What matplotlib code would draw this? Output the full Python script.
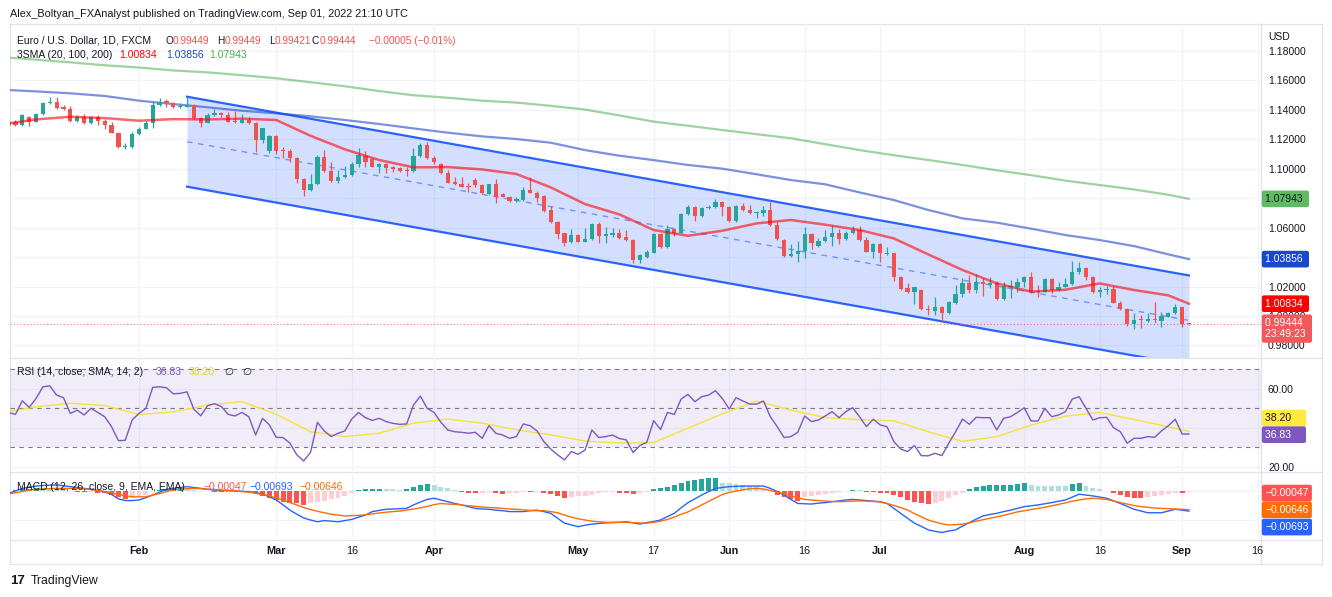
import numpy as np
import pandas as pd
import matplotlib
matplotlib.use("Agg")
import matplotlib.pyplot as plt
from matplotlib.transforms import blended_transform_factory as blend
from matplotlib.lines import Line2D

plt.rcParams['font.family'] = ['Liberation Sans', 'DejaVu Sans']

# ------------------------------------------------------------------ data
dates = pd.bdate_range('2022-01-05', '2022-09-02')

opens = [1.1295, 1.1313, 1.1295, 1.1351, 1.1318, 1.1367, 1.1442, 1.1453, 1.1414, 1.1403,
         1.1324, 1.1347, 1.1306, 1.1347, 1.1324, 1.1297, 1.1243, 1.1143, 1.1148,
         1.1234, 1.1268, 1.1306, 1.1431, 1.1460, 1.1442, 1.1414, 1.1419, 1.1431, 1.1340,
         1.1311, 1.1363, 1.1378, 1.1363, 1.1320, 1.1311, 1.1329, 1.1306, 1.1193, 1.1119,
         1.1220, 1.1125, 1.1121, 1.1069, 1.0927, 1.0854, 1.0895, 1.1076, 1.0986, 1.0918,
         1.0940, 1.0954, 1.1031, 1.1087, 1.1062, 1.1013, 1.1031, 1.1008, 1.1001, 1.0990,
         1.0986, 1.1085, 1.1159,
         1.1073, 1.1028, 1.0967, 1.0908, 1.0897, 1.0881, 1.0922, 1.0886, 1.0827, 1.0893,
         1.0827, 1.0807, 1.0780, 1.0786, 1.0854, 1.0836, 1.0813, 1.0719, 1.0639, 1.0560, 1.0499,
         1.0549, 1.0504, 1.0520, 1.0624, 1.0542, 1.0549, 1.0565, 1.0534, 1.0515, 1.0380,
         1.0402, 1.0429, 1.0554, 1.0466, 1.0587, 1.0565, 1.0692, 1.0741, 1.0678, 1.0730,
         1.0737, 1.0775,
         1.0741, 1.0646, 1.0746, 1.0719, 1.0698, 1.0701, 1.0719, 1.0617, 1.0515, 1.0409,
         1.0418, 1.0441, 1.0554, 1.0475, 1.0511, 1.0538, 1.0565, 1.0520, 1.0560, 1.0583,
         1.0515, 1.0436,
         1.0488, 1.0420, 1.0425, 1.0267, 1.0187, 1.0160, 1.0176, 1.0050, 1.0036, 1.0059,
         1.0018, 1.0086, 1.0147, 1.0226, 1.0176, 1.0233, 1.0210, 1.0221, 1.0113, 1.0194, 1.0199,
         1.0233, 1.0267, 1.0172, 1.0165, 1.0249, 1.0176, 1.0199, 1.0217, 1.0301, 1.0327,
         1.0262, 1.0163, 1.0176, 1.0183, 1.0090, 1.0045, 0.9946, 0.9977, 0.9968, 0.9980,
         0.9968, 0.9996, 1.0018,
         1.0059, 0.99449]
highs = [1.1329, 1.1329, 1.1370, 1.1356, 1.1374, 1.1453, 1.1482, 1.1482, 1.1431, 1.1423,
         1.1363, 1.1367, 1.1356, 1.1363, 1.1333, 1.1318, 1.1250, 1.1170, 1.1250,
         1.1283, 1.1324, 1.1453, 1.1476, 1.1469, 1.1453, 1.1446, 1.1487, 1.1435, 1.1351,
         1.1374, 1.1401, 1.1385, 1.1385, 1.1392, 1.1367, 1.1351, 1.1318, 1.1277, 1.1225,
         1.1227, 1.1143, 1.1130, 1.1076, 1.0933, 1.0963, 1.1092, 1.1125, 1.1046, 1.0990,
         1.1017, 1.1044, 1.1139, 1.1119, 1.1069, 1.1040, 1.1040, 1.1020, 1.1013, 1.1013,
         1.1137, 1.1170, 1.1182,
         1.1085, 1.1040, 1.0990, 1.0940, 1.0940, 1.0899, 1.0933, 1.0893, 1.0895, 1.0927,
         1.0832, 1.0813, 1.0809, 1.0872, 1.0940, 1.0850, 1.0818, 1.0746, 1.0646, 1.0565, 1.0587,
         1.0554, 1.0594, 1.0633, 1.0639, 1.0601, 1.0594, 1.0587, 1.0583, 1.0520, 1.0420,
         1.0447, 1.0560, 1.0565, 1.0617, 1.0594, 1.0696, 1.0753, 1.0746, 1.0737, 1.0753,
         1.0793, 1.0780,
         1.0746, 1.0753, 1.0764, 1.0753, 1.0714, 1.0746, 1.0775, 1.0639, 1.0520, 1.0488,
         1.0511, 1.0606, 1.0560, 1.0527, 1.0583, 1.0617, 1.0587, 1.0574, 1.0612, 1.0610,
         1.0538, 1.0493,
         1.0493, 1.0470, 1.0429, 1.0271, 1.0226, 1.0199, 1.0181, 1.0074, 1.0127, 1.0068,
         1.0102, 1.0210, 1.0255, 1.0278, 1.0285, 1.0255, 1.0262, 1.0240, 1.0233, 1.0244, 1.0255,
         1.0273, 1.0301, 1.0210, 1.0255, 1.0255, 1.0230, 1.0255, 1.0373, 1.0364, 1.0334,
         1.0273, 1.0199, 1.0203, 1.0203, 1.0102, 1.0052, 1.0018, 1.0007, 1.0018, 1.0093,
         1.0029, 1.0025, 1.0079,
         1.0063, 0.99449]
lows = [1.1288, 1.1288, 1.1290, 1.1288, 1.1313, 1.1363, 1.1440, 1.1403, 1.1397, 1.1318,
        1.1318, 1.1304, 1.1304, 1.1295, 1.1268, 1.1238, 1.1137, 1.1130, 1.1140,
        1.1229, 1.1265, 1.1272, 1.1426, 1.1419, 1.1408, 1.1408, 1.1414, 1.1335, 1.1283,
        1.1306, 1.1358, 1.1351, 1.1313, 1.1311, 1.1306, 1.1302, 1.1114, 1.1175, 1.1108,
        1.1097, 1.1069, 1.1046, 1.0899, 1.0813, 1.0850, 1.0888, 1.0978, 1.0908, 1.0904,
        1.0933, 1.0949, 1.1013, 1.1008, 1.1008, 1.0967, 1.0967, 1.0978, 1.0978, 1.0949,
        1.0978, 1.1080, 1.1065,
        1.1031, 1.0963, 1.0899, 1.0888, 1.0872, 1.0843, 1.0872, 1.0827, 1.0820, 1.0764,
        1.0804, 1.0775, 1.0773, 1.0782, 1.0832, 1.0775, 1.0705, 1.0633, 1.0522, 1.0477, 1.0497,
        1.0499, 1.0499, 1.0515, 1.0497, 1.0497, 1.0538, 1.0524, 1.0511, 1.0357, 1.0357,
        1.0395, 1.0425, 1.0461, 1.0461, 1.0545, 1.0560, 1.0685, 1.0646, 1.0674, 1.0723,
        1.0730, 1.0680,
        1.0639, 1.0639, 1.0714, 1.0692, 1.0662, 1.0678, 1.0610, 1.0515, 1.0402, 1.0402,
        1.0364, 1.0391, 1.0452, 1.0470, 1.0504, 1.0477, 1.0488, 1.0515, 1.0556, 1.0511,
        1.0432, 1.0391,
        1.0368, 1.0413, 1.0240, 1.0176, 1.0154, 1.0081, 1.0041, 1.0007, 1.0007, 0.9961,
        1.0014, 1.0081, 1.0127, 1.0158, 1.0158, 1.0136, 1.0187, 1.0109, 1.0109, 1.0120, 1.0165,
        1.0199, 1.0158, 1.0131, 1.0160, 1.0158, 1.0172, 1.0194, 1.0210, 1.0285, 1.0244,
        1.0158, 1.0127, 1.0149, 1.0086, 1.0041, 0.9934, 0.9909, 0.9916, 0.9961, 0.9954,
        0.9923, 0.9991, 1.0014,
        0.9923, 0.99421]
closes = [1.1318, 1.1295, 1.1363, 1.1318, 1.1367, 1.1446, 1.1453, 1.1412, 1.1401, 1.1324,
          1.1347, 1.1306, 1.1347, 1.1324, 1.1297, 1.1243, 1.1143, 1.1152, 1.1234,
          1.1268, 1.1306, 1.1431, 1.1449, 1.1442, 1.1414, 1.1424, 1.1431, 1.1340, 1.1311,
          1.1363, 1.1378, 1.1360, 1.1318, 1.1313, 1.1329, 1.1306, 1.1193, 1.1272, 1.1220,
          1.1119, 1.1119, 1.1069, 1.0927, 1.0854, 1.0895, 1.1076, 1.0986, 1.0915, 1.0940,
          1.0956, 1.1031, 1.1092, 1.1046, 1.1013, 1.1031, 1.1001, 1.0999, 1.0986, 1.0983,
          1.1085, 1.1159, 1.1069,
          1.1046, 1.0967, 1.0904, 1.0895, 1.0877, 1.0877, 1.0888, 1.0832, 1.0893, 1.0809,
          1.0809, 1.0782, 1.0791, 1.0854, 1.0836, 1.0800, 1.0714, 1.0639, 1.0556, 1.0497, 1.0549,
          1.0504, 1.0522, 1.0624, 1.0542, 1.0554, 1.0565, 1.0531, 1.0515, 1.0380, 1.0413,
          1.0436, 1.0554, 1.0466, 1.0587, 1.0560, 1.0692, 1.0741, 1.0678, 1.0730, 1.0741,
          1.0775, 1.0737,
          1.0646, 1.0746, 1.0719, 1.0701, 1.0703, 1.0719, 1.0617, 1.0520, 1.0409, 1.0418,
          1.0441, 1.0554, 1.0497, 1.0511, 1.0538, 1.0565, 1.0520, 1.0560, 1.0583, 1.0515,
          1.0436, 1.0488,
          1.0429, 1.0429, 1.0267, 1.0183, 1.0160, 1.0194, 1.0045, 1.0041, 1.0059, 1.0018,
          1.0093, 1.0147, 1.0226, 1.0176, 1.0233, 1.0217, 1.0221, 1.0113, 1.0203, 1.0203, 1.0233,
          1.0267, 1.0165, 1.0165, 1.0249, 1.0176, 1.0199, 1.0217, 1.0301, 1.0327, 1.0262,
          1.0165, 1.0176, 1.0183, 1.0090, 1.0045, 0.9943, 0.9973, 0.9973, 0.9982, 0.9973,
          1.0000, 1.0018, 1.0059,
          0.99449, 0.99444]

# smooth indicator lines, read at weekly sample dates
sample_dates = ['2022-01-05', '2022-01-11', '2022-01-18', '2022-01-25', '2022-02-01', '2022-02-08',
                '2022-02-15', '2022-02-22', '2022-03-01', '2022-03-08', '2022-03-15', '2022-03-22',
                '2022-03-29', '2022-04-05', '2022-04-12', '2022-04-19', '2022-04-26', '2022-05-03',
                '2022-05-10', '2022-05-17', '2022-05-24', '2022-05-31', '2022-06-07', '2022-06-14',
                '2022-06-21', '2022-06-28', '2022-07-05', '2022-07-12', '2022-07-19', '2022-07-26',
                '2022-08-02', '2022-08-09', '2022-08-16', '2022-08-23', '2022-08-30', '2022-09-02']
sma20 = [1.1306, 1.1333, 1.1351, 1.1342, 1.1324, 1.1335, 1.1333, 1.1338, 1.1329, 1.1222,
         1.1130, 1.1058, 1.1008, 1.1010, 1.0994, 1.0963, 1.0872, 1.0759, 1.0689, 1.0583,
         1.0544, 1.0578, 1.0628, 1.0651, 1.0619, 1.0583, 1.0526, 1.0418, 1.0312, 1.0221,
         1.0165, 1.0178, 1.0221, 1.0176, 1.0140, 1.00834]
sma100 = [1.1532, 1.1523, 1.1510, 1.1492, 1.1460, 1.1437, 1.1415, 1.1392, 1.1374, 1.1354,
          1.1329, 1.1302, 1.1272, 1.1243, 1.1218, 1.1200, 1.1175, 1.1125, 1.1087, 1.1057,
          1.1024, 1.0999, 1.0961, 1.0922, 1.0893, 1.0838, 1.0786, 1.0719, 1.0662, 1.0633,
          1.0592, 1.0549, 1.0515, 1.0474, 1.0418, 1.03856]
sma200 = [1.1752, 1.1738, 1.1720, 1.1700, 1.1685, 1.1665, 1.1652, 1.1633, 1.1612, 1.1585,
          1.1558, 1.1525, 1.1497, 1.1480, 1.1460, 1.1447, 1.1425, 1.1400, 1.1360, 1.1318,
          1.1290, 1.1261, 1.1233, 1.1205, 1.1165, 1.1125, 1.1090, 1.1058, 1.1024, 1.0988,
          1.0955, 1.0918, 1.0888, 1.0858, 1.0822, 1.07943]
rsi_ma = [48.3, 50.8, 52.6, 51.5, 46.8, 48.2, 51.7, 53.5, 47.0, 38.0,
          35.5, 37.2, 42.4, 44.5, 42.4, 39.0, 36.4, 33.2, 32.2, 32.4,
          39.8, 47.2, 53.8, 49.1, 45.3, 44.2, 43.6, 38.0, 33.0, 35.5,
          41.4, 46.0, 47.9, 44.3, 40.5, 38.20]

rsi = [47.9, 46.9, 53.9, 50.5, 55.1, 61.1, 61.6, 56.8, 55.5, 47.4,
       49.1, 46.6, 50.0, 47.9, 45.7, 40.6, 33.4, 33.6, 44.0, 47.4,
       50.0, 60.8, 61.1, 60.6, 57.5, 57.7, 58.5, 49.5, 46.2, 51.4,
       52.4, 50.9, 46.9, 46.1, 47.9, 45.7, 36.3, 44.9, 41.5, 35.1,
       35.0, 32.1, 26.1, 23.0, 27.4, 42.8, 38.4, 35.5, 37.2, 38.4,
       44.5, 47.9, 45.2, 43.8, 44.9, 43.2, 42.3, 41.8, 42.0, 51.7,
       56.3, 50.0, 47.9, 42.8, 38.9, 38.0, 37.7, 37.2, 37.7, 34.6,
       41.1, 37.2, 36.3, 34.6, 35.5, 42.0, 41.1, 38.4, 32.9, 29.1,
       26.1, 23.5, 27.8, 26.4, 28.6, 38.9, 35.0, 35.5, 36.3, 34.5,
       33.8, 27.3, 30.9, 32.6, 43.7, 39.1, 47.9, 46.9, 54.8, 57.2,
       53.4, 56.0, 56.8, 59.1, 55.1, 49.7, 55.5, 53.8, 52.2, 52.2,
       53.8, 45.7, 40.6, 35.0, 35.5, 37.7, 46.1, 43.2, 44.0, 46.1,
       48.3, 45.2, 48.3, 50.3, 45.7, 40.6, 44.4, 41.5, 40.6, 32.9,
       29.1, 27.8, 30.9, 25.7, 25.6, 26.9, 25.7, 32.1, 38.0, 44.5,
       41.8, 45.4, 45.2, 45.2, 38.9, 44.9, 45.7, 47.9, 50.3, 43.5,
       43.5, 50.0, 45.7, 46.6, 48.3, 54.8, 56.0, 50.0, 44.0, 45.2,
       45.4, 40.1, 38.0, 32.1, 34.6, 34.6, 35.5, 35.1, 38.4, 41.1,
       44.4, 36.8, 36.83]

# MACD values in units of 1e-4
macd_e4 = [-8, 0, 9, 13, 17, 19, 20, 21, 18, 15,
           12, 9, 6, 2, -3, -12, -27, -33, -33, -31,
           -23, -14, -4, 6, 9, 12, 15, 12, 9, 6,
           3, 2, 1, 0, -1, -2, -6, -10, -20, -31,
           -48, -66, -80, -93, -100, -106, -102, -104, -106, -102,
           -98, -90, -83, -71, -67, -63, -62, -61, -60, -48,
           -38, -29, -25, -31, -37, -43, -48, -54, -60, -62,
           -63, -66, -68, -71, -71, -71, -68, -66, -71, -77,
           -94, -111, -117, -123, -118, -114, -112, -110, -109, -108,
           -106, -110, -114, -109, -105, -100, -88, -77, -58, -40,
           -27, -14, -2, 9, 12, 15, 16, 17, 17, 17,
           17, 9, -2, -14, -29, -43, -44, -45, -42, -40,
           -37, -34, -31, -29, -31, -33, -35, -37, -43, -60,
           -77, -94, -111, -122, -134, -139, -143, -138, -134, -121,
           -109, -97, -86, -81, -77, -71, -66, -60, -54, -51,
           -48, -44, -40, -35, -31, -21, -11, -14, -17, -21,
           -25, -34, -43, -53, -63, -69, -75, -75, -75, -69,
           -63, -66, -69.3]
signal_e4 = [-10, -6, -2, 3, 5, 7, 8, 9, 9, 9,
             9, 7, 5, 2, -2, -6, -12, -16, -20, -20,
             -20, -14, -9, -2, 3, 6, 8, 9, 8, 6,
             5, 3, 2, 1, -2, -4, -8, -12, -17, -24,
             -31, -40, -48, -57, -64, -70, -75, -80, -83, -86,
             -85, -84, -82, -79, -76, -73, -71, -69, -66, -62,
             -58, -53, -47, -43, -45, -46, -48, -51, -53, -55,
             -57, -58, -60, -62, -63, -65, -67, -68, -68, -71,
             -75, -83, -90, -96, -100, -104, -106, -108, -108, -108,
             -108, -109, -110, -111, -108, -104, -98, -90, -80, -72,
             -60, -48, -36, -24, -12, -5, 0, 4, 8, 9,
             7, 2, -4, -10, -17, -23, -29, -31, -33, -35,
             -36, -37, -36, -35, -34, -35, -36, -38, -43, -50,
             -57, -66, -78, -89, -100, -107, -113, -117, -116, -114,
             -110, -104, -99, -94, -89, -84, -78, -72, -68, -64,
             -60, -56, -51, -46, -41, -35, -31, -27, -25, -27,
             -29, -34, -40, -45, -50, -54, -56, -59, -60, -61,
             -62, -63, -64.6]
hist_e4 = [0, 3.4, 6.9, 8, 9.2, 9.2, 8, 5.7, 3.4, 1.1,
           -2.3, -4.6, -4.6, -5.7, -8, -13.8, -21.8, -26.4, -25.3, -19.5,
           -13.8, 1.1, 3.4, 6.9, 8, 9.2, 6.9, 3.4, 1.1, -1.1,
           -2.3, -3.4, -3.4, -3.4, -2.3, -3.4, -8, -17.2, -25.3, -31,
           -36.8, -40.2, -42.5, -48.3, -42.5, -37.9, -33.3, -28.7, -25.3, -17.2,
           -8, 3.4, 5.7, 6.9, 8, 8, 5.7, 4.6, 5.7, 12.6,
           20.7, 24.1, 19.5, 14.9, 9.2, 3.4, -2.3, -5.7, -8, -5.7,
           -3.4, -8, -10.3, -8, -5.7, -2.3, -3.4, -3.4, -5.7, -10.3,
           -17.2, -25.3, -21.8, -17.2, -17.2, -13.8, -5.7, -3.4, -2.3, -5.7,
           -8, -10.3, -8, -3.4, 5.7, 9.2, 14.9, 20.7, 28.7, 35.6,
           39.1, 41.4, 43.7, 44.5, 28.7, 26.4, 23, 19.5, 17.2, 12.6,
           8, 1.1, -13.8, -21.8, -28.7, -33.3, -21.8, -17.2, -13.8, -10.3,
           -8, -4.6, -1.1, 3.4, 2.3, -3.4, -4.6, -5.7, -8, -13.8,
           -21.8, -31, -37.9, -42.5, -46, -42.5, -33.3, -24.1, -14.9, -8,
           5.7, 12.6, 17.2, 19.5, 20.7, 21.8, 22.3, 23, 26.4, 20.7,
           18.4, 17.2, 17.2, 17.2, 17.0, 23, 26.4, 17.2, 10.3, 5.7,
           1.1, -5.7, -13.8, -19.5, -24.1, -25.3, -21.8, -17.2, -13.8, -10.3,
           -6.9, -8, -4.7]

channel_dates = ['2022-02-10', '2022-09-02']
channel_mid = [1.1182, 0.9970]
channel_half = 0.0305

price_ticks = [0.98, 1.00, 1.02, 1.04, 1.06, 1.08, 1.10, 1.12, 1.14, 1.16, 1.18]
price_tick_shown = [True, True, True, False, True, False, True, True, True, True, True]
rsi_ticks = [20, 40, 60]
rsi_tick_shown = [True, False, True]
tick_dates = ['2022-02-01', '2022-03-01', '2022-03-16', '2022-04-01', '2022-05-02', '2022-05-17',
              '2022-06-01', '2022-06-16', '2022-07-01', '2022-08-01', '2022-08-16', '2022-09-01',
              '2022-09-16']
tick_labels = ['Feb', 'Mar', '16', 'Apr', 'May', '17', 'Jun', '16', 'Jul', 'Aug', '16', 'Sep', '16']

n = len(dates)
for arr in (opens, highs, lows, closes, rsi, macd_e4, signal_e4, hist_e4):
    assert len(arr) == n, len(arr)

# ------------------------------------------------------------------ helpers
FW, FH = 1332, 597
DARK = '#131722'
GRID = '#f0f3fa'
BORDER = '#e0e3eb'
GREEN = '#26a69a'
RED = '#ef5350'


def fx(px):
    return px / FW


def fy(py):
    return 1 - py / FH


def bpos(ds):
    return np.array([len(pd.bdate_range(dates[0], d)) - 1 for d in pd.to_datetime(ds)])


x = np.arange(n)
sx = bpos(sample_dates)
tx = bpos(tick_dates)
chx = bpos(channel_dates)

fig = plt.figure(figsize=(FW / 100, FH / 100), dpi=100)
fig.patch.set_facecolor('white')

L, R = 9.5, 1261
ax_p = fig.add_axes([fx(L), fy(357), fx(R) - fx(L), (357 - 24) / FH])
ax_r = fig.add_axes([fx(L), fy(471), fx(R) - fx(L), (471 - 358) / FH])
ax_m = fig.add_axes([fx(L), fy(539), fx(R) - fx(L), (539 - 472) / FH])

for ax in (ax_p, ax_r, ax_m):
    for s in ax.spines.values():
        s.set_visible(False)
    ax.set_xlim(0.13, 182.5)
    ax.set_xticks([])
    ax.yaxis.tick_right()
    ax.tick_params(axis='y', length=0, pad=5, labelsize=7.5, labelcolor=DARK)
    ax.set_facecolor('none')
    for p in tx:
        ax.axvline(p, color=GRID, lw=0.9, zorder=0)

# ------------------------------------------------------------------ price pane
ax_p.set_ylim(0.9722, 1.1980)
ax_p.set_yticks(price_ticks)
ax_p.set_yticklabels([f'{v:.5f}' if s else '' for v, s in zip(price_ticks, price_tick_shown)])
for v in price_ticks:
    ax_p.axhline(v, color=GRID, lw=0.9, zorder=0)

# regression channel
mid = np.array(channel_mid)
ax_p.fill_between(chx, mid - channel_half, mid + channel_half, color='#2962ff', alpha=0.2, lw=0, zorder=1)
ax_p.plot(chx, mid + channel_half, color='#2962ff', lw=1.6, zorder=2)
ax_p.plot(chx, mid - channel_half, color='#2962ff', lw=1.6, zorder=2)
ax_p.plot(chx, mid, color='#2962ff', lw=1.0, alpha=0.6, ls=(0, (4, 4)), zorder=2)

# moving averages
ax_p.plot(sx, sma200, color='#4caf50', lw=1.6, alpha=0.55, zorder=2)
ax_p.plot(sx, sma100, color='#2348c8', lw=1.6, alpha=0.6, zorder=2)

# candles
o = np.array(opens); h = np.array(highs); lo = np.array(lows); c = np.array(closes)
cols = np.where(c >= o, GREEN, RED)
ax_p.vlines(x, lo, h, colors=cols, lw=0.9, zorder=3)
ax_p.bar(x, np.maximum(np.abs(c - o), 0.0006), bottom=np.minimum(o, c), width=0.62,
         color=cols, lw=0, zorder=4)

ax_p.plot(sx, sma20, color='#ff0000', lw=1.8, alpha=0.6, zorder=5)

# last price line
ax_p.axhline(closes[-1], color=RED, lw=0.8, ls=(0, (1, 2)), alpha=0.8, zorder=2)

# ------------------------------------------------------------------ RSI pane
ax_r.set_ylim(17.8, 75.9)
ax_r.set_yticks(rsi_ticks)
ax_r.set_yticklabels([f'{v:.2f}' if s else '' for v, s in zip(rsi_ticks, rsi_tick_shown)])
for v in rsi_ticks:
    ax_r.axhline(v, color=GRID, lw=0.9, zorder=0)
ax_r.axhspan(30, 70, color='#7e57c2', alpha=0.1, lw=0, zorder=0.5)
for v in (70, 50, 30):
    ax_r.axhline(v, color='#787b86', lw=0.8, ls=(0, (4, 4)), zorder=1)
ax_r.plot(sx, rsi_ma, color='#f5e23a', lw=1.0, zorder=3)
ax_r.plot(x, rsi, color='#7e57c2', lw=1.0, zorder=4)

# ------------------------------------------------------------------ MACD pane
ax_m.set_ylim(-0.01655, 0.00655)
ax_m.set_yticks([])
for v in (0.0, -0.01):
    ax_m.axhline(v, color=GRID, lw=0.9, zorder=0)
hist = np.array(hist_e4) * 1e-4
prev = np.concatenate([[hist[0]], hist[:-1]])
hcols = np.where(hist >= 0,
                 np.where(hist > prev, GREEN, '#b2dfdb'),
                 np.where(hist < prev, '#ff5252', '#ffcdd2'))
ax_m.bar(x, hist, width=0.72, color=hcols, lw=0, zorder=2)
ax_m.plot(x, np.array(macd_e4) * 1e-4, color='#2962ff', lw=1.0, zorder=3)
ax_m.plot(x, np.array(signal_e4) * 1e-4, color='#ff6d00', lw=1.0, zorder=3)

# x labels
tr = blend(ax_m.transData, ax_m.transAxes)
for p, lab in zip(tx, tick_labels):
    ax_m.text(p, -0.18, lab, transform=tr, ha='center', va='center', fontsize=7.8,
              color=DARK, fontweight='bold' if lab.isalpha() else 'normal', clip_on=False)


# ------------------------------------------------------------------ scale labels
def tag(ax, val, text, bg, fg='white', dy=0.0, va='center'):
    ax.annotate(text, xy=(1, val), xycoords=blend(ax.transAxes, ax.transData),
                xytext=(3.0, dy), textcoords='offset points', ha='left', va=va,
                fontsize=7.5, color=fg, zorder=20, annotation_clip=False,
                bbox=dict(boxstyle='round,pad=0.32,rounding_size=0.2', fc=bg, ec='none'))


tag(ax_p, sma200[-1], f'{sma200[-1]:.5f} ', '#5fba63', DARK)
tag(ax_p, sma100[-1], f'{sma100[-1]:.5f} ', '#1848cc')
tag(ax_p, sma20[-1], f'{sma20[-1]:.5f} ', '#ff0000')
tag(ax_p, closes[-1], f'{closes[-1]:.5f} \n23:49:23 ', '#f05a5a', dy=4.6, va='top')
tag(ax_r, rsi_ma[-1], f'{rsi_ma[-1]:.2f}    ', '#ffeb3b', DARK, dy=9.5)
tag(ax_r, rsi[-1], f'{rsi[-1]:.2f}    ', '#7e57c2', dy=-0.5)
hl, ml, sl = hist[-1], macd_e4[-1] * 1e-4, signal_e4[-1] * 1e-4
tag(ax_m, hl, f'\u2212{abs(hl):.5f}', '#ff5252', dy=-0.5)
tag(ax_m, sl, f'\u2212{abs(sl):.5f}', '#ff6d00', dy=0.0)
tag(ax_m, ml, f'\u2212{abs(ml):.5f}', '#2962ff', dy=-11.5)

fig.text(fx(1268), fy(37), 'USD', fontsize=7.5, color=DARK, va='center', ha='left',
         zorder=30, bbox=dict(boxstyle='square,pad=0.35', fc='white', ec='none'))


# ------------------------------------------------------------------ frame lines
def fline(x0, y0, x1, y1):
    fig.add_artist(Line2D([fx(x0), fx(x1)], [fy(y0), fy(y1)], color=BORDER, lw=0.9, zorder=0))


fline(L, 23.5, 1322, 23.5)
fline(L, 564, 1322, 564)
fline(L, 23.5, L, 564)
fline(1322, 23.5, 1322, 564)
fline(R, 23.5, R, 564)
fline(L, 357.5, 1322, 357.5)
fline(L, 471.5, 1322, 471.5)
fline(L, 539.5, 1322, 539.5)


# ------------------------------------------------------------------ texts
def t(px, py, s, color=DARK, size=7.5, **kw):
    return fig.text(fx(px), fy(py), s, color=color, fontsize=size, va='center', ha='left', **kw)


t(10, 14, 'Alex_Boltyan_FXAnalyst published on TradingView.com, Sep 01, 2022 21:10 UTC', size=7.8)

renderer = fig.canvas.get_renderer()


def seq(px, py, pieces, size=7.3):
    cur = px
    for s, col in pieces:
        tt = t(cur, py, s, col, size)
        cur += tt.get_window_extent(renderer).width


t(17, 40.5, 'Euro / U.S. Dollar, 1D, FXCM')
seq(165, 40.5, [('O', DARK), (f'{opens[-1]:.5f}', RED)])
seq(217, 40.5, [('H', DARK), (f'{highs[-1]:.5f}', RED)])
seq(269, 40.5, [('L', DARK), (f'{lows[-1]:.5f}', RED)])
seq(312, 40.5, [('C', DARK), (f'{closes[-1]:.5f}', RED)])
t(369, 40.5, '\u22120.00005 (\u22120.01%)', RED, size=7.3)

t(17, 54.5, '3SMA (20, 100, 200)')
t(119, 54.5, f'{sma20[-1]:.5f}', '#ff0000')
t(166, 54.5, f'{sma100[-1]:.5f}', '#1848cc')
t(209, 54.5, f'{sma200[-1]:.5f}', '#4caf50')

t(17, 372, 'RSI (14, close, SMA, 14, 2)')
t(156, 372, f'{rsi[-1]:.2f}', '#7e57c2')
t(189, 372, f'{rsi_ma[-1]:.2f}', '#e6d230')
t(224, 372, '\u2205')
t(242, 372, '\u2205')

t(17, 487, 'MACD (12, 26, close, 9, EMA, EMA)')
t(203, 487, f'\u2212{abs(hl):.5f}', '#ff5252')
t(250, 487, f'\u2212{abs(ml):.5f}', '#2962ff')
t(300, 487, f'\u2212{abs(sl):.5f}', '#ff6d00')

t(10, 581, '17', size=9.5, fontweight='heavy')
t(31, 581, 'TradingView', size=8.8)

fig.savefig('out.png', dpi=100, facecolor='white')
